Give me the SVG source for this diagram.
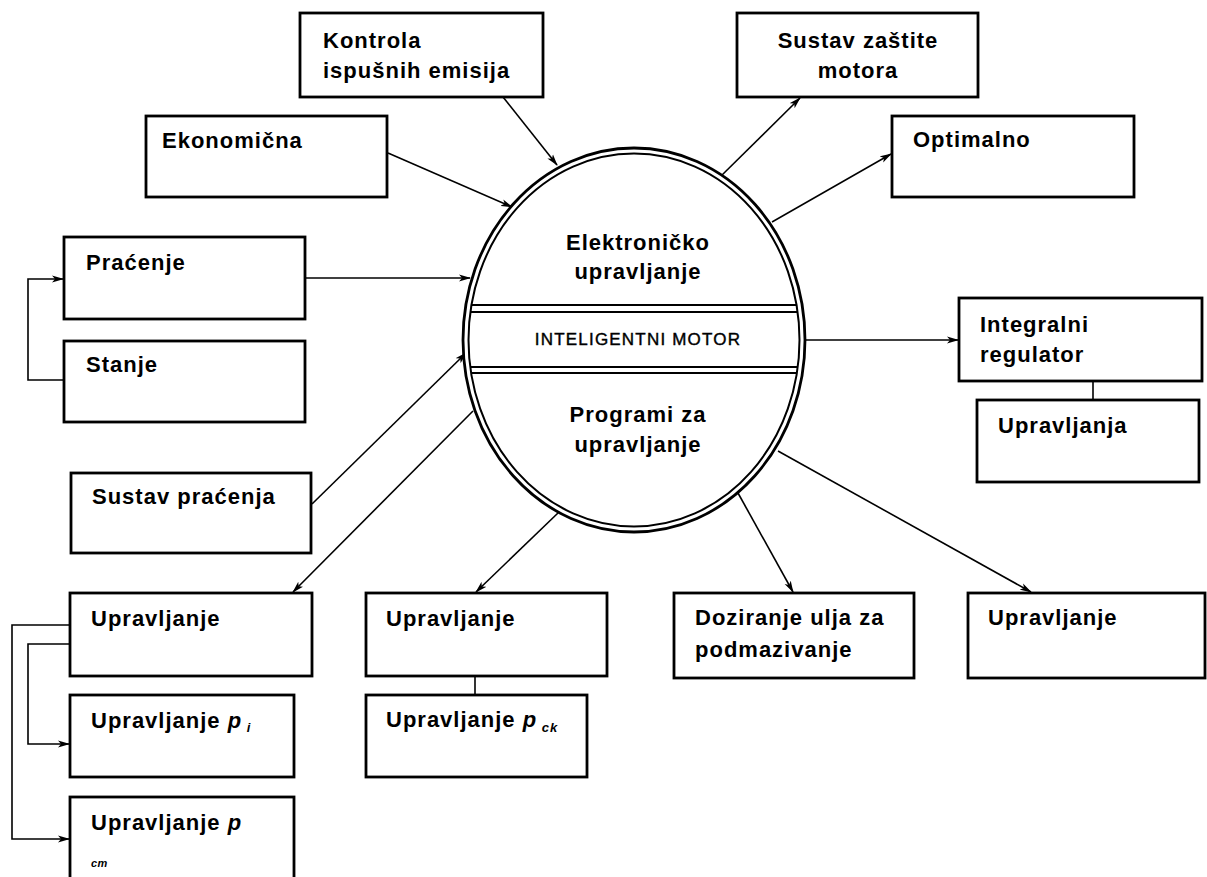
<svg xmlns="http://www.w3.org/2000/svg" width="1207" height="877" viewBox="0 0 1207 877">
<style>
.box{fill:#fff;stroke:#000;stroke-width:2.8}
.t{font-family:"Liberation Sans",Arial,sans-serif;font-weight:bold;font-size:22px;letter-spacing:1px;fill:#000}
.it{font-style:italic}
.c{fill:none;stroke:#000;stroke-width:1.6}
.ca{fill:none;stroke:#000;stroke-width:1.6;marker-end:url(#ah)}
.band{stroke:#000;stroke-width:2.2}
</style>
<defs>
<marker id="ah" viewBox="0 0 12 8" refX="11" refY="4" markerWidth="12" markerHeight="8" markerUnits="userSpaceOnUse" orient="auto">
<path d="M0,0.5 L12,4 L0,7.5 L3,4 z" fill="#000"/>
</marker>
</defs>
<rect width="1207" height="877" fill="#fff"/>

<g id="connectors">
<line class="ca" x1="388" y1="153" x2="512" y2="207"/>
<line class="ca" x1="503" y1="97" x2="557" y2="165"/>
<line class="ca" x1="720" y1="177" x2="800" y2="98"/>
<line class="ca" x1="772" y1="222" x2="891" y2="154"/>
<line class="ca" x1="305" y1="278" x2="470" y2="278"/>
<polyline class="ca" points="64,380 28,380 28,279 63,279"/>
<line class="ca" x1="312" y1="504" x2="466" y2="353"/>
<line class="ca" x1="473" y1="411" x2="293" y2="592"/>
<line class="ca" x1="558" y1="513" x2="476" y2="592"/>
<line class="ca" x1="738" y1="493" x2="793" y2="592"/>
<line class="ca" x1="778" y1="451" x2="1031" y2="592"/>
<line class="ca" x1="803" y1="340" x2="958" y2="340"/>
<line class="c" x1="1093" y1="381" x2="1093" y2="400"/>
<line class="c" x1="475" y1="676" x2="475" y2="695"/>
<polyline class="ca" points="70,625 12,625 12,839 69,839"/>
<polyline class="ca" points="70,644 28,644 28,744 69,744"/>
</g>

<g id="center">
<ellipse cx="634" cy="340" rx="171" ry="192" fill="#fff" stroke="#000" stroke-width="2.8"/>
<ellipse cx="634" cy="340" rx="165.5" ry="186.5" fill="none" stroke="#000" stroke-width="2"/>
<line class="band" x1="471" y1="305" x2="797" y2="305"/>
<line class="band" x1="471" y1="312" x2="797" y2="312"/>
<line class="band" x1="471" y1="367" x2="797" y2="367"/>
<line class="band" x1="471" y1="373" x2="797" y2="373"/>
<text class="t" x="638" y="250" text-anchor="middle">Elektroničko</text>
<text class="t" x="638" y="279" text-anchor="middle">upravljanje</text>
<text x="638" y="345" text-anchor="middle" font-family="Liberation Sans,Arial,sans-serif" font-size="17" letter-spacing="1.2" fill="#000" stroke="#000" stroke-width="0.4">INTELIGENTNI MOTOR</text>
<text class="t" x="638" y="422" text-anchor="middle">Programi za</text>
<text class="t" x="638" y="452" text-anchor="middle">upravljanje</text>
</g>

<g id="kontrola"><rect class="box" x="300" y="13" width="243" height="84"/><text class="t" x="323" y="48">Kontrola</text><text class="t" x="323" y="78">ispušnih emisija</text></g>
<g id="ekonomicna"><rect class="box" x="146" y="116" width="241" height="81"/><text class="t" x="162" y="148">Ekonomična</text></g>
<g id="sustav-zastite"><rect class="box" x="737" y="13" width="241" height="84"/><text class="t" x="858" y="48" text-anchor="middle">Sustav zaštite</text><text class="t" x="858" y="78" text-anchor="middle">motora</text></g>
<g id="optimalno"><rect class="box" x="892" y="116" width="242" height="81"/><text class="t" x="913" y="147">Optimalno</text></g>
<g id="pracenje"><rect class="box" x="64" y="237" width="241" height="82"/><text class="t" x="86" y="270">Praćenje</text></g>
<g id="stanje"><rect class="box" x="64" y="341" width="241" height="81"/><text class="t" x="86" y="372">Stanje</text></g>
<g id="sustav-pracenja"><rect class="box" x="71" y="473" width="240" height="80"/><text class="t" x="92" y="504">Sustav praćenja</text></g>
<g id="integralni"><rect class="box" x="959" y="298" width="243" height="83"/><text class="t" x="980" y="332">Integralni</text><text class="t" x="980" y="362">regulator</text></g>
<g id="upravljanja"><rect class="box" x="977" y="400" width="222" height="82"/><text class="t" x="998" y="433">Upravljanja</text></g>
<g id="upravljanje-1"><rect class="box" x="70" y="593" width="242" height="83"/><text class="t" x="91" y="626">Upravljanje</text></g>
<g id="upravljanje-pi"><rect class="box" x="70" y="695" width="224" height="82"/><text class="t" x="91" y="728">Upravljanje <tspan class="it">p</tspan><tspan class="it" style="font-size:13px" dy="4"> i</tspan></text></g>
<g id="upravljanje-pcm"><rect class="box" x="70" y="797" width="224" height="90"/><text class="t" x="91" y="830">Upravljanje <tspan class="it">p</tspan></text><text class="t it" x="91" y="867" style="font-size:11px;letter-spacing:0.5px">cm</text></g>
<g id="upravljanje-2"><rect class="box" x="366" y="593" width="241" height="83"/><text class="t" x="386" y="626">Upravljanje</text></g>
<g id="upravljanje-pck"><rect class="box" x="366" y="695" width="221" height="82"/><text class="t" x="386" y="727">Upravljanje <tspan class="it">p</tspan><tspan class="it" style="font-size:13px" dy="5"> ck</tspan></text></g>
<g id="doziranje"><rect class="box" x="674" y="593" width="240" height="85"/><text class="t" x="695" y="625">Doziranje ulja za</text><text class="t" x="695" y="657">podmazivanje</text></g>
<g id="upravljanje-3"><rect class="box" x="968" y="593" width="237" height="85"/><text class="t" x="988" y="625">Upravljanje</text></g>
</svg>
